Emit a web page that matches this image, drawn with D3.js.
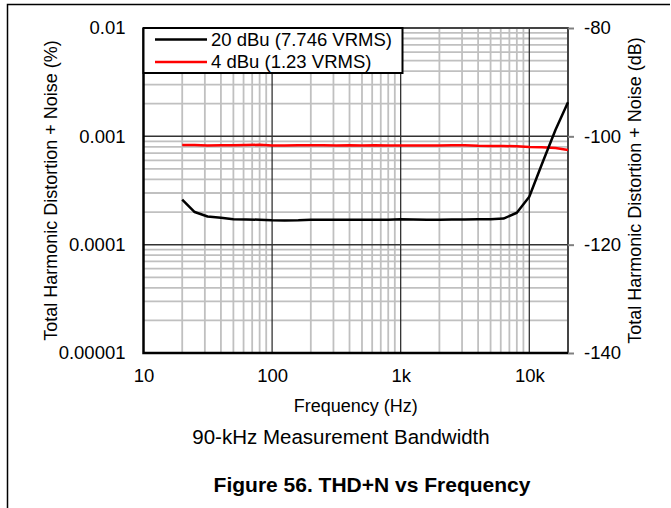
<!DOCTYPE html>
<html>
<head>
<meta charset="utf-8">
<script src="https://cdn.jsdelivr.net/npm/d3@7"></script>
<style>
  body { margin: 0; background: #fff; }
  svg text { font-family: "Liberation Sans", Arial, sans-serif; fill: #000; }
</style>
</head>
<body>
<div id="chart"></div>
<script>
// chart data
var freqs = [20, 25, 31.5, 40, 50, 63, 80, 100, 125, 160, 200, 250, 315, 400, 500, 630, 800,
             1000, 1250, 1600, 2000, 2500, 3150, 4000, 5000, 6300, 8000, 10000, 12500, 16000, 20000];
var thd20dBu = [0.00026, 0.0002, 0.000182, 0.000177, 0.000172, 0.000171, 0.00017, 0.000168, 0.000167,
                0.000168, 0.00017, 0.00017, 0.00017, 0.00017, 0.00017, 0.00017, 0.00017,
                0.000172, 0.000171, 0.00017, 0.00017, 0.000171, 0.000171, 0.000172, 0.000172,
                0.000174, 0.000197, 0.000277, 0.00055, 0.00115, 0.00206];
var thd4dBu = [0.00083, 0.00083, 0.000825, 0.000828, 0.000828, 0.00083, 0.000836, 0.000822, 0.000825,
               0.000826, 0.000826, 0.000828, 0.000824, 0.000826, 0.000822, 0.000828, 0.000822,
               0.000823, 0.000825, 0.000822, 0.000824, 0.000826, 0.000828, 0.000818, 0.000816,
               0.000815, 0.000808, 0.000797, 0.000792, 0.00078, 0.000748];
var seriesNames = ["20 dBu (7.746 VRMS)", "4 dBu (1.23 VRMS)"];
var seriesColors = ["#000000", "#ff0000"];
var xTicks = [10, 100, 1000, 10000];
var xTickLabels = ["10", "100", "1k", "10k"];
var yTicks = [0.00001, 0.0001, 0.001, 0.01];
var yTickLabels = ["0.00001", "0.0001", "0.001", "0.01"];
var dbTicks = [-140, -120, -100, -80];

var svgWidth = 671;
var svgHeight = 508;
var plot = { left: 143.5, right: 568, top: 28, bottom: 353 };

var svg = d3.select("#chart")
    .append("svg")
    .attr("width", svgWidth)
    .attr("height", svgHeight);

// outer frame (left and top only)
svg.append("path")
    .attr("d", "M7.5,508 V4.5 H670")
    .attr("fill", "none")
    .attr("stroke", "#000")
    .attr("stroke-width", 1.5);

var x = d3.scaleLog().domain([10, 20000]).range([plot.left, plot.right]);
var y = d3.scaleLog().domain([0.00001, 0.01]).range([plot.bottom, plot.top]);
var yDb = d3.scaleLinear().domain([-140, -80]).range([plot.bottom, plot.top]);

// minor grid
var minorX = [];
var minorY = [];
[10, 100, 1000, 10000].forEach(function(d) {
    for (var k = 2; k <= 9; k++) {
        if (d * k < 20000) minorX.push(d * k);
    }
});
[0.00001, 0.0001, 0.001].forEach(function(d) {
    for (var k = 2; k <= 9; k++) minorY.push(d * k);
});

var grid = svg.append("g");
grid.selectAll(".vminor").data(minorX).enter().append("line")
    .attr("x1", function(d) { return x(d); })
    .attr("x2", function(d) { return x(d); })
    .attr("y1", plot.top).attr("y2", plot.bottom)
    .attr("stroke", "#c0c0c0").attr("stroke-width", 1.8);
grid.selectAll(".hminor").data(minorY).enter().append("line")
    .attr("y1", function(d) { return y(d); })
    .attr("y2", function(d) { return y(d); })
    .attr("x1", plot.left).attr("x2", plot.right)
    .attr("stroke", "#c0c0c0").attr("stroke-width", 1.8);
grid.selectAll(".vmajor").data([100, 1000, 10000]).enter().append("line")
    .attr("x1", function(d) { return x(d); })
    .attr("x2", function(d) { return x(d); })
    .attr("y1", plot.top).attr("y2", plot.bottom)
    .attr("stroke", "#222").attr("stroke-width", 1.2);
grid.selectAll(".hmajor").data([0.0001, 0.001]).enter().append("line")
    .attr("y1", function(d) { return y(d); })
    .attr("y2", function(d) { return y(d); })
    .attr("x1", plot.left).attr("x2", plot.right)
    .attr("stroke", "#333").attr("stroke-width", 1.5);

// top and right border (grey) with right ticks
svg.append("path")
    .attr("d", "M" + plot.left + "," + plot.top + " H" + plot.right + " V" + plot.bottom)
    .attr("fill", "none")
    .attr("stroke", "#444")
    .attr("stroke-width", 2);

// right dB axis
var rightAxis = d3.axisRight(yDb).tickValues(dbTicks).tickSize(6).tickPadding(10)
    .tickFormat(function(d) { return d; });
var rAxis = svg.append("g")
    .attr("transform", "translate(" + plot.right + ",0)")
    .call(rightAxis);
rAxis.select(".domain").remove();
rAxis.selectAll(".tick line").attr("stroke", "#808080").attr("stroke-width", 2);
rAxis.selectAll(".tick text")
    .attr("font-size", 18.5)
    .attr("font-family", "Liberation Sans, Arial, sans-serif");

// left axis labels
var leftAxis = d3.axisLeft(y).tickValues(yTicks).tickSize(0).tickPadding(18)
    .tickFormat(function(d, i) { return yTickLabels[i]; });
var lAxis = svg.append("g")
    .attr("transform", "translate(" + plot.left + ",0)")
    .call(leftAxis);
lAxis.select(".domain").remove();
lAxis.selectAll(".tick text")
    .attr("font-size", 18.5)
    .attr("font-family", "Liberation Sans, Arial, sans-serif");

// bottom axis labels
var bottomAxis = d3.axisBottom(x).tickValues(xTicks).tickSize(0).tickPadding(16)
    .tickFormat(function(d, i) { return xTickLabels[i]; });
var bAxis = svg.append("g")
    .attr("transform", "translate(0," + plot.bottom + ")")
    .call(bottomAxis);
bAxis.select(".domain").remove();
bAxis.selectAll(".tick text")
    .attr("font-size", 18.5)
    .attr("font-family", "Liberation Sans, Arial, sans-serif");

// left and bottom black axis lines
svg.append("path")
    .attr("d", "M" + plot.left + "," + plot.top + " V" + plot.bottom + " H" + plot.right)
    .attr("fill", "none")
    .attr("stroke", "#000")
    .attr("stroke-width", 2.5);

// data lines
var line = d3.line()
    .x(function(d) { return x(d[0]); })
    .y(function(d) { return y(d[1]); });

var seriesData = [thd20dBu, thd4dBu];
[1, 0].forEach(function(s) {
    svg.append("path")
        .datum(freqs.map(function(f, i) { return [f, seriesData[s][i]]; }))
        .attr("d", line)
        .attr("fill", "none")
        .attr("stroke", seriesColors[s])
        .attr("stroke-width", 2.5)
        .attr("stroke-linejoin", "round");
});

// legend
var legend = svg.append("g");
legend.append("rect")
    .attr("x", plot.left).attr("y", plot.top)
    .attr("width", 259).attr("height", 45)
    .attr("fill", "#fff")
    .attr("stroke", "#000")
    .attr("stroke-width", 2);
seriesNames.forEach(function(name, i) {
    var ly = 39.5 + i * 22.5;
    legend.append("line")
        .attr("x1", 155).attr("x2", 207)
        .attr("y1", ly).attr("y2", ly)
        .attr("stroke", seriesColors[i])
        .attr("stroke-width", 2.5);
    legend.append("text")
        .attr("x", 211).attr("y", ly)
        .attr("dy", "0.35em")
        .attr("font-size", 18.5)
        .text(name);
});

// axis titles
var midY = (plot.top + plot.bottom) / 2;
svg.append("text")
    .attr("transform", "translate(57," + midY + ") rotate(-90)")
    .attr("text-anchor", "middle")
    .attr("font-size", 18)
    .text("Total Harmonic Distortion + Noise (%)");
svg.append("text")
    .attr("transform", "translate(641," + midY + ") rotate(-90)")
    .attr("text-anchor", "middle")
    .attr("font-size", 18)
    .text("Total Harmonic Distortion + Noise (dB)");

var midX = (plot.left + plot.right) / 2;
svg.append("text")
    .attr("x", midX).attr("y", 412)
    .attr("text-anchor", "middle")
    .attr("font-size", 18)
    .text("Frequency (Hz)");
svg.append("text")
    .attr("x", 341).attr("y", 444)
    .attr("text-anchor", "middle")
    .attr("font-size", 20.5)
    .text("90-kHz Measurement Bandwidth");
svg.append("text")
    .attr("x", 372).attr("y", 492)
    .attr("text-anchor", "middle")
    .attr("font-size", 21)
    .attr("font-weight", "bold")
    .text("Figure 56. THD+N vs Frequency");
</script>
</body>
</html>
